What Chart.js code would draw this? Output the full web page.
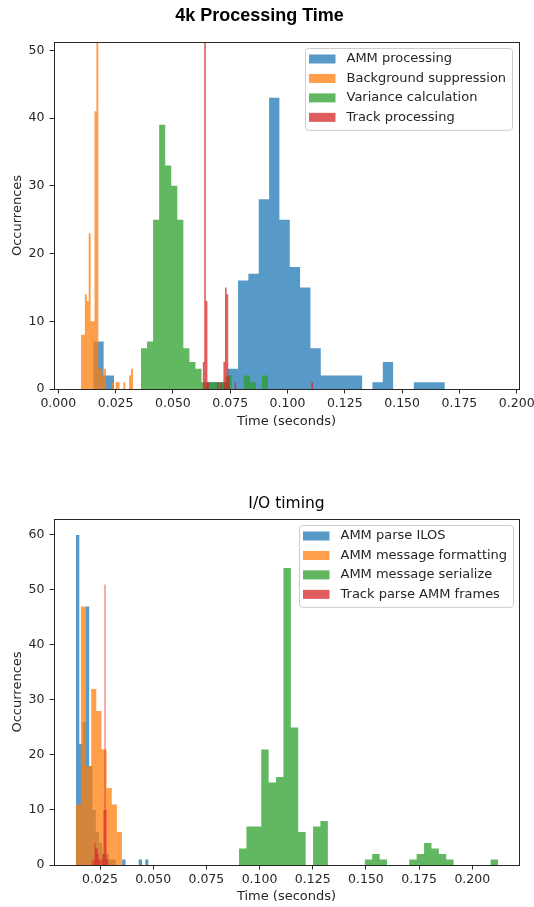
<!DOCTYPE html>
<html>
<head>
<meta charset="utf-8">
<script src="https://cdn.jsdelivr.net/npm/chart.js@4.4.0/dist/chart.umd.min.js"></script>
<style>
html,body{margin:0;padding:0;background:#fff;width:534px;height:907px;overflow:hidden;}
#w1{position:absolute;left:0;top:0;width:534px;height:455px;}
#w2{position:absolute;left:0;top:455px;width:534px;height:452px;}
</style>
</head>
<body>
<div id="w1"><canvas id="c1" width="534" height="455"></canvas></div>
<div id="w2"><canvas id="c2" width="534" height="452"></canvas></div>
<script>
// ---------- Top chart: 4k Processing Time ----------
const topTitle = '4k Processing Time';
const topXTicks = [0, 0.025, 0.05, 0.075, 0.1, 0.125, 0.15, 0.175, 0.2];
const topYTicks = [0, 10, 20, 30, 40, 50];
const topLabels = ['AMM processing', 'Background suppression', 'Variance calculation', 'Track processing'];

// histogram bins: first bin edge (s), bin width (s), counts per bin
const ammProcStart = 0.01527, ammProcWidth = 0.004511;
const ammProcCounts = [7, 2, 0, 0, 0, 0, 0, 0, 0, 0, 0, 1, 1, 3, 16, 17, 28, 43, 25, 18, 15, 6, 2, 2, 2, 2, 0, 1, 4, 0, 0, 1, 1, 1];

const bgSupStart = 0.0099, bgSupWidth = 0.00084;
const bgSupCounts = [8, 8, 14, 13, 23, 10, 10, 41, 62, 3, 3, 2, 3, 0, 0, 0, 1, 0, 1, 1, 0, 0, 1, 0, 0, 2, 3];

const varCalcStart = 0.03608, varCalcWidth = 0.00264;
const varCalcCounts = [6, 7, 25, 39, 33, 30, 25, 6, 4, 3, 1, 1, 1, 1, 2, 0, 0, 2, 1, 0, 2];

const trackProcStart = 0.06296, trackProcWidth = 0.000698;
const trackProcCounts = [4, 65, 13, 1, 0, 0, 0, 0, 0, 1, 0, 1, 0, 4, 15, 14, 2, 0, 0, 0, 1,
  0, 0, 0, 0, 0, 0, 0, 0, 0, 0, 0, 0, 0, 0, 0, 0, 0, 0, 0, 0, 0, 0, 0, 0, 0, 0, 0, 0, 0, 0,
  0, 0, 0, 0, 0, 0, 0, 0, 0, 0, 0, 0, 0, 0, 0, 0, 0, 1];

// ---------- Bottom chart: I/O timing ----------
const bottomTitle = 'I/O timing';
const bottomXTicks = [0.025, 0.05, 0.075, 0.1, 0.125, 0.15, 0.175, 0.2];
const bottomYTicks = [0, 10, 20, 30, 40, 50, 60];
const bottomLabels = ['AMM parse ILOS', 'AMM message formatting', 'AMM message serialize', 'Track parse AMM frames'];

const parseIlosStart = 0.013716, parseIlosWidth = 0.001551;
const parseIlosCounts = [60, 22, 26, 47, 18, 10, 6, 4, 2, 2, 1, 1, 0, 0, 1, 0, 0, 0, 0, 1, 0, 1];

const msgFmtStart = 0.013575, msgFmtWidth = 0.002421;
const msgFmtCounts = [11, 47, 18, 32, 28, 21, 14, 11, 6];

const msgSerStart = 0.09035, msgSerWidth = 0.003479;
const msgSerCounts = [3, 7, 7, 21, 15, 16, 54, 25, 6, 0, 7, 8, 0, 0, 0, 0, 0, 1, 2, 1, 0, 0, 0, 1, 2, 4, 3, 2, 1, 0, 0, 0, 0, 0, 1];

const trackParseStart = 0.021004, trackParseWidth = 0.00047;
const trackParseCounts = [1, 0, 1, 4, 3, 3, 2, 1, 1, 0, 1, 2, 10, 51, 10, 1, 1];

// ---------- styling ----------
const COLORS = ['rgba(31,119,180,0.75)', 'rgba(255,127,14,0.75)', 'rgba(44,160,44,0.75)', 'rgba(214,39,40,0.75)'];
const INK = '#262626';
Chart.defaults.font.family = "'DejaVu Sans', sans-serif";
Chart.defaults.color = INK;

function histPoints(start, width, counts) {
  const pts = [{x: start, y: 0}];
  counts.forEach((c, i) => pts.push({x: start + i * width, y: c}));
  pts.push({x: start + counts.length * width, y: 0});
  return pts;
}

function makeDatasets(labels, series) {
  return series.map((s, i) => ({
    label: labels[i],
    data: histPoints(s[0], s[1], s[2]),
    stepped: 'before',
    fill: 'origin',
    backgroundColor: COLORS[i],
    borderColor: 'rgba(0,0,0,0)',
    borderWidth: 1,
    pointRadius: 0,
    pointHoverRadius: 0,
    tension: 0,
    clip: 0,
    order: series.length - i
  }));
}

function alignPx(v) { return Math.round(v - 0.5) + 0.5; }

const framePlugin = {
  id: 'frame',
  afterDatasetsDraw(chart) {
    const {ctx, chartArea: a} = chart;
    ctx.save();
    ctx.strokeStyle = INK;
    ctx.lineWidth = 1;
    const l = alignPx(a.left), r = alignPx(a.right), t = alignPx(a.top), b = alignPx(a.bottom);
    ctx.strokeRect(l, t, r - l, b - t);
    ctx.restore();
  }
};

const legendPlugin = {
  id: 'boxLegend',
  afterDraw(chart) {
    const {ctx, chartArea: a} = chart;
    const ds = chart.data.datasets;
    ctx.save();
    ctx.font = "13px 'DejaVu Sans'";
    const tw = Math.max(...ds.map(d => ctx.measureText(d.label).width));
    const w = 41.4 + tw + 6;
    const rowH = 19.45;
    const h = 4 * rowH + 4;
    const x = Math.round(a.right - 6.5 - w) + 0.5;
    const y = Math.round(a.top + 6) + 0.5;
    const r = 3;
    ctx.beginPath();
    ctx.moveTo(x + r, y);
    ctx.lineTo(x + w - r, y);
    ctx.quadraticCurveTo(x + w, y, x + w, y + r);
    ctx.lineTo(x + w, y + h - r);
    ctx.quadraticCurveTo(x + w, y + h, x + w - r, y + h);
    ctx.lineTo(x + r, y + h);
    ctx.quadraticCurveTo(x, y + h, x, y + h - r);
    ctx.lineTo(x, y + r);
    ctx.quadraticCurveTo(x, y, x + r, y);
    ctx.closePath();
    ctx.fillStyle = 'rgba(255,255,255,0.8)';
    ctx.fill();
    ctx.strokeStyle = '#cccccc';
    ctx.lineWidth = 1;
    ctx.stroke();
    ds.forEach((d, i) => {
      const cy = y + 10.5 + i * rowH;
      ctx.fillStyle = d.backgroundColor;
      ctx.fillRect(x + 3.5, cy - 4.5, 26.5, 9);
      ctx.fillStyle = INK;
      ctx.textAlign = 'left';
      ctx.textBaseline = 'middle';
      ctx.fillText(d.label, x + 41, cy);
    });
    ctx.restore();
  }
};

function makeScales(cfg) {
  const grid = {display: true, drawOnChartArea: false, drawTicks: true, tickLength: 4.5, color: INK, lineWidth: 1};
  return {
    x: {
      type: 'linear', min: cfg.xMin, max: cfg.xMax, bounds: 'data',
      afterBuildTicks: s => { s.ticks = cfg.xTicks.map(v => ({value: v})); },
      afterFit: s => { s.height = cfg.xAxisH; s.paddingLeft = 0; s.paddingRight = 0; },
      ticks: {autoSkip: false, maxRotation: 0, minRotation: 0, padding: cfg.xTickPad, color: INK,
        font: {size: 12.5}, callback: v => Number(v).toFixed(3)},
      grid: grid,
      border: {display: false},
      title: {display: true, text: 'Time (seconds)', color: INK, font: {size: 13},
        padding: {top: 0, bottom: cfg.xTitlePad}}
    },
    y: {
      type: 'linear', min: 0, max: cfg.yMax, bounds: 'data',
      afterBuildTicks: s => { s.ticks = cfg.yTicks.map(v => ({value: v})); },
      afterFit: s => { s.width = 54; s.paddingTop = 0; s.paddingBottom = 0; },
      ticks: {autoSkip: false, padding: 5, color: INK, font: {size: 12.5}, callback: v => String(v)},
      grid: grid,
      border: {display: false},
      title: {display: true, text: 'Occurrences', color: INK, font: {size: 13},
        padding: {top: 10.2, bottom: 0}}
    }
  };
}

new Chart(document.getElementById('c1'), {
  type: 'line',
  data: {
    datasets: makeDatasets(topLabels, [
      [ammProcStart, ammProcWidth, ammProcCounts],
      [bgSupStart, bgSupWidth, bgSupCounts],
      [varCalcStart, varCalcWidth, varCalcCounts],
      [trackProcStart, trackProcWidth, trackProcCounts]
    ])
  },
  options: {
    responsive: false,
    animation: false,
    events: [],
    layout: {padding: {left: 0, right: 15, top: 0, bottom: 0}},
    scales: makeScales({xMin: -0.00188, xMax: 0.2010, yMax: 51.22, xTicks: topXTicks, yTicks: topYTicks,
      xAxisH: 66, xTickPad: 2.3, xTitlePad: 25.2}),
    plugins: {
      legend: {display: false},
      tooltip: {enabled: false},
      title: {display: true, text: topTitle, color: '#000',
        font: {family: "'Liberation Sans', Arial, sans-serif", size: 18, weight: 'bold', lineHeight: 1.2},
        padding: {top: 5.7, bottom: 14.7}}
    }
  },
  plugins: [framePlugin, legendPlugin]
});

new Chart(document.getElementById('c2'), {
  type: 'line',
  data: {
    datasets: makeDatasets(bottomLabels, [
      [parseIlosStart, parseIlosWidth, parseIlosCounts],
      [msgFmtStart, msgFmtWidth, msgFmtCounts],
      [msgSerStart, msgSerWidth, msgSerCounts],
      [trackParseStart, trackParseWidth, trackParseCounts]
    ])
  },
  options: {
    responsive: false,
    animation: false,
    events: [],
    layout: {padding: {left: 0, right: 15, top: 0, bottom: 0}},
    scales: makeScales({xMin: 0.003373, xMax: 0.22196, yMax: 62.9, xTicks: bottomXTicks, yTicks: bottomYTicks,
      xAxisH: 42, xTickPad: 3.2, xTitlePad: 2.2}),
    plugins: {
      legend: {display: false},
      tooltip: {enabled: false},
      title: {display: true, text: bottomTitle, color: '#000', fullSize: false,
        font: {size: 15.5, weight: 'normal', lineHeight: 1.2},
        padding: {top: 39.6, bottom: 5.8}}
    }
  },
  plugins: [framePlugin, legendPlugin]
});
</script>
</body>
</html>
